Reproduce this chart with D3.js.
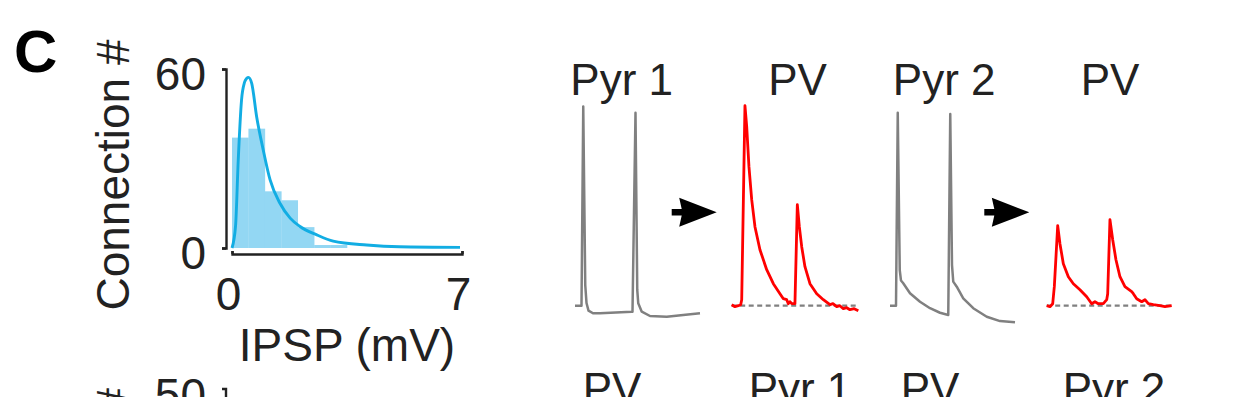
<!DOCTYPE html>
<html>
<head>
<meta charset="utf-8">
<script src="https://d3js.org/d3.v7.min.js"></script>
<style>
  body { margin: 0; background: #fff; }
  svg { display: block; }
  text { font-family: "Liberation Sans", Arial, Helvetica, sans-serif; fill: #222; }
</style>
</head>
<body>
<div id="chart"></div>
<script>
// histogram of IPSP amplitudes (0.5 mV bins)
const binStarts = [0, 0.5, 1, 1.5, 2, 2.5, 3];
const binCounts = [37, 40, 19, 16, 7, 1, 1];
const binWidth = 0.5;

// fitted curve [mV, count]
const fitX = [0, 0.11, 0.19, 0.29, 0.38, 0.45, 0.5, 0.6, 0.75, 0.95, 1.16, 1.46, 1.77, 2.07, 2.58, 3.08, 4.1, 5.1, 6.94];
const fitY = [0, 7.7, 29.5, 49.6, 55.5, 56.9, 57.2, 55.2, 44, 32.9, 22.8, 15, 10, 7.2, 4.4, 2.3, 1.0, 0.4, 0.2];

const xTicks = [0, 7];
const yTicks = [0, 60];

// presynaptic Pyr traces [ms, mV]
const pyr1T = [0, 5.2, 6.6, 8.2, 9.2, 10.8, 14.4, 20, 45.4, 46, 48.4, 49.8, 50.6, 53.4, 60, 73.4, 86.6, 100];
const pyr1V = [-70, -70, 40, -58.6, -68.5, -72.7, -74.2, -74.2, -73.3, -73.3, 36.6, -61.3, -68.7, -73.3, -75.7, -76.1, -75.1, -74.2];
const pyr2T = [0, 4.8, 6.2, 7.8, 8.8, 10.6, 16, 24, 32, 40, 46.6, 48.2, 49.6, 50.6, 53.4, 58.6, 66.6, 77.4, 88, 100];
const pyr2V = [-70, -70, 36.6, -50.3, -56.1, -57.6, -63.1, -67.8, -71.4, -73.9, -75.1, 35.9, -47.5, -56.7, -59.5, -65.9, -71.4, -76.1, -78.5, -79.2];

// postsynaptic PV responses [ms, mV above baseline]
const pv1T = [0, 2.6, 5.3, 7.2, 8.0, 10.6, 12.0, 13.8, 16.0, 18.6, 22.6, 28.0, 33.3, 38.6, 41.3, 44.0, 45.3, 46.6, 48.0, 50.6, 52.5, 54.1, 56.0, 58.6, 62.6, 68.0, 73.3, 78.6, 81.0, 84.0, 86.5, 89.3, 92.0, 94.6, 98.0, 101.3];
const pv1V = [0.01, -0.01, 0, 0.01, 0.06, 2.0, 1.79, 1.39, 1.06, 0.79, 0.56, 0.36, 0.22, 0.12, 0.07, 0.06, 0.02, 0.04, 0.02, 0.02, 1.01, 0.79, 0.59, 0.39, 0.22, 0.12, 0.06, 0.01, 0.02, -0.01, 0.0, -0.03, -0.02, -0.04, -0.03, -0.05];
const pv2T = [0, 2.6, 4.8, 6.1, 8.8, 10.6, 13.3, 17.3, 21.3, 26.6, 32, 36, 38.6, 41.3, 45.3, 48, 48.8, 50.6, 52.8, 55.4, 58.6, 62.6, 68, 69.3, 72, 76, 78.6, 81.3, 85.3, 90.6, 94.6, 100];
const pv2V = [0, -0.01, 0.02, 0.19, 0.8, 0.62, 0.42, 0.29, 0.22, 0.16, 0.09, 0.02, 0.04, 0.02, 0.02, 0.06, 0.12, 0.86, 0.66, 0.46, 0.29, 0.19, 0.14, 0.12, 0.07, 0.04, 0.06, 0.02, 0.01, 0, -0.01, 0];

const traceLabels = ["Pyr 1", "PV", "Pyr 2", "PV"];
const bottomLabels = ["PV", "Pyr 1", "PV", "Pyr 2"];

const W = 1246, H = 397;
const svg = d3.select("#chart").append("svg")
  .attr("width", W).attr("height", H)
  .style("background", "#fff");

// panel letter
svg.append("text").attr("x", 14).attr("y", 72)
  .style("font-size", "60px").style("font-weight", "bold").style("fill", "#000")
  .text("C");

// ---------- histogram ----------
const x = d3.scaleLinear().domain([0, 7]).range([232, 462]);
const y = d3.scaleLinear().domain([0, 60]).range([248, 69]);

svg.append("g").selectAll("rect")
  .data(binStarts.map((b, i) => ({ b: b, c: binCounts[i] })))
  .enter().append("rect")
  .attr("x", d => x(d.b))
  .attr("y", d => y(d.c))
  .attr("width", d => x(d.b + binWidth) - x(d.b) + 0.3)
  .attr("height", d => y(0) - y(d.c))
  .style("fill", "#93d7f3");

const fitLine = d3.line()
  .x(d => x(d[0]))
  .y(d => y(d[1]))
  .curve(d3.curveMonotoneX);
svg.append("path")
  .datum(fitX.map((v, i) => [v, fitY[i]]))
  .attr("d", fitLine)
  .style("fill", "none").style("stroke", "#12ade3").style("stroke-width", 2.9);

const yAxis = svg.append("g").attr("transform", "translate(226,0)")
  .call(d3.axisLeft(y).tickValues(yTicks).tickFormat(d3.format("d")).tickSize(4).tickPadding(16));
yAxis.selectAll("text").attr("dy", "0.45em").style("font-size", "46px");

const xAxis = svg.append("g").attr("transform", "translate(0,254)")
  .call(d3.axisBottom(x).tickValues(xTicks).tickFormat(d3.format("d"))
    .tickSizeInner(-3).tickSizeOuter(-3).tickPadding(23));
xAxis.selectAll("text").attr("dx", -4).style("font-size", "46px");

svg.selectAll(".domain, .tick line").style("stroke", "#222").style("stroke-width", 2.4);
svg.selectAll(".tick text").style("fill", "#222").style("font-family", "'Liberation Sans', Arial, sans-serif");

svg.append("text")
  .attr("transform", "translate(129,175) rotate(-90)")
  .attr("text-anchor", "middle")
  .style("font-size", "46px")
  .text("Connection #");

svg.append("text").attr("x", 347).attr("y", 361)
  .attr("text-anchor", "middle")
  .style("font-size", "46px")
  .text("IPSP (mV)");

// ---------- traces ----------
const panelX0 = [575, 731.7, 890, 1046.7];
const labelCx = [621.7, 797.5, 944.2, 1110];
const pyrY = d3.scaleLinear().domain([-80, 40]).range([323.8, 106.6]);
const pvY = d3.scaleLinear().domain([0, 2]).range([305.7, 105.7]);
const xPanel = i => d3.scaleLinear().domain([0, 100]).range([panelX0[i], panelX0[i] + 125]);

const traces = [
  { t: pyr1T, v: pyr1V, ys: pyrY, color: "#808080", w: 2.5 },
  { t: pv1T, v: pv1V, ys: pvY, color: "#ff0000", w: 2.8 },
  { t: pyr2T, v: pyr2V, ys: pyrY, color: "#808080", w: 2.5 },
  { t: pv2T, v: pv2V, ys: pvY, color: "#ff0000", w: 2.8 }
];

traces.forEach((tr, i) => {
  const xs = xPanel(i);
  if (tr.ys === pvY) {
    svg.append("line")
      .attr("x1", xs(0)).attr("x2", xs(100))
      .attr("y1", pvY(0)).attr("y2", pvY(0))
      .style("stroke", "#808080").style("stroke-width", 2.2)
      .style("stroke-dasharray", "5,3.5");
  }
  const line = d3.line().x(d => xs(d[0])).y(d => tr.ys(d[1]));
  svg.append("path")
    .datum(tr.t.map((t, k) => [t, tr.v[k]]))
    .attr("d", line)
    .style("fill", "none").style("stroke", tr.color)
    .style("stroke-width", tr.w).style("stroke-linejoin", "round");

  svg.append("text").attr("x", labelCx[i]).attr("y", 95)
    .attr("text-anchor", "middle").style("font-size", "44px")
    .text(traceLabels[i]);
});

// arrows Pyr -> PV
const arrowTips = [716.7, 1029.3];
arrowTips.forEach(tx => {
  svg.append("path")
    .attr("transform", `translate(${tx},212.3)`)
    .attr("d", "M-45,-3.2H-35L-37.5,-14.5L0,0L-37.5,14.5L-35,3.2H-45Z")
    .style("fill", "#000");
});

// next row (cut off at the bottom edge, as in the source figure)
const bottomCx = [612, 800, 930, 1114];
bottomLabels.forEach((t, i) => {
  svg.append("text").attr("x", bottomCx[i]).attr("y", 404)
    .attr("text-anchor", "middle").style("font-size", "44px").text(t);
});
svg.append("text").attr("x", 206).attr("y", 411)
  .attr("text-anchor", "end").style("font-size", "46px").text("50");
svg.append("text")
  .attr("transform", "translate(129,388) rotate(-90)")
  .attr("text-anchor", "end").style("font-size", "46px").text("Connection #");
svg.append("path").attr("d", "M222,389H226V420")
  .style("fill", "none").style("stroke", "#222").style("stroke-width", 2.4);
</script>
</body>
</html>
